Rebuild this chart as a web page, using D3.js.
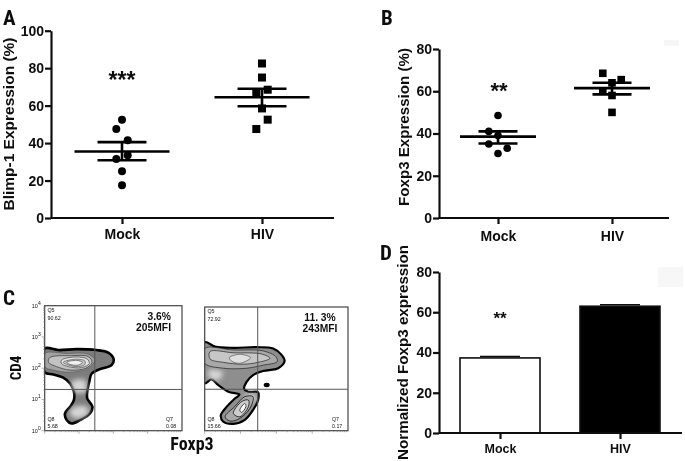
<!DOCTYPE html>
<html><head><meta charset="utf-8">
<script src="https://cdn.jsdelivr.net/npm/d3@7/dist/d3.min.js"></script>
<style>
html,body{margin:0;padding:0;background:#fff}
text{font-family:"Liberation Sans",Arial,sans-serif;fill:#111}
.narrow{font-family:"Liberation Sans Narrow","Roboto Condensed","Liberation Sans",sans-serif;font-weight:700}
</style></head><body>
<svg id="c" width="685" height="461" xmlns="http://www.w3.org/2000/svg"></svg>
<script>
const categories = ["Mock","HIV"];
const yTicksA = [0,20,40,60,80,100];
const yTicksB = [0,20,40,60,80];

const blimpMock = [52.5,47.5,41.5,33.5,31.5,25,17.5];
const blimpMockSlots = [0,-1,1,1,-1,0,0];
const blimpHiv = [82.5,75,68.5,66.5,58.5,52.5,47.5];
const blimpHivSlots = [0,0,1,-1,0,1,-1];
const blimpMeans = [35.5,64.5];
const blimpHigh = [40.5,69];
const blimpLow = [30.8,59.7];

const foxpMock = [48.5,41,39,35,33,30.5];
const foxpMockSlots = [0,-1,0,-1,1,0];
const foxpHiv = [68.5,65.5,64,60,58,50];
const foxpHivSlots = [-1,1,0,-1,0,0];
const foxpMeans = [38.5,61.5];
const foxpHigh = [41,64];
const foxpLow = [35.3,58.5];

const normValues = [37.3,63];
const normErr = [38,63.7];

const flowExponents = [0,1,2,3,4];
// contours, in decades of fluorescence [Foxp3, CD4]
const mockOuter = [[0,2.63],[.4,2.58],[.93,2.61],[1.51,2.58],[1.85,2.5],[2.01,2.29],[1.95,2.1],[1.61,1.97],[1.37,1.83],[1.3,1.57],[1.24,1.25],[1.24,1.03],[1.39,.77],[1.32,.55],[1.03,.34],[.78,.23],[.64,.34],[.59,.55],[.74,.77],[.85,.98],[.85,1.25],[.74,1.51],[.54,1.7],[.25,1.8],[0,1.87]];
const mockRing1 = [[0,2.47],[.64,2.47],[1.27,2.45],[1.46,2.26],[1.27,2],[.74,1.87],[.25,1.94],[0,2.05]];
const mockRing2 = [[.15,2.34],[.78,2.4],[1.27,2.37],[1.38,2.19],[1.2,2],[.74,1.94],[.35,2.05],[.11,2.19]];
const mockRing3 = [[.49,2.26],[.93,2.36],[1.24,2.29],[1.3,2.15],[1.08,2.02],[.69,2.05],[.49,2.15]];
const mockRing4 = [[.54,2.19],[.93,2.29],[1.17,2.23],[1.17,2.12],[.98,2.05],[.69,2.1]];
const mockRing5 = [[.64,2.19],[.93,2.25],[1.1,2.19],[.98,2.1],[.74,2.12]];
const mockGlowLow = [[.78,.71],[1.22,.77],[1.27,.55],[.98,.39],[.74,.51]];
const mockGlowNeck = [[.78,1.57],[1.17,1.62],[1.2,1.25],[.88,1.25]];

const hivOuter = [[0,2.86],[.29,2.72],[.8,2.68],[1.45,2.7],[1.91,2.66],[2.14,2.46],[2.23,2.25],[2.05,2.02],[1.63,1.93],[1.35,1.8],[1.17,1.58],[1.1,1.35],[1.22,1.26],[1.49,1.24],[1.49,.99],[1.35,.67],[1.12,.35],[.8,.22],[.52,.29],[.45,.5],[.61,.77],[.84,1.04],[.97,1.17],[.66,1.26],[.38,1.47],[.19,1.66],[0,1.53]];
const hivRing1 = [[0,2.66],[.8,2.61],[1.63,2.58],[1.99,2.39],[2.02,2.23],[1.63,2.12],[1.17,2.02],[.52,2.02],[0,2.18]];
const hivRing2 = [[.15,2.56],[.8,2.52],[1.59,2.48],[1.82,2.34],[1.49,2.21],[1.08,2.15],[.52,2.21],[.15,2.32]];
const hivRing3 = [[.69,2.36],[.98,2.47],[1.28,2.36],[.98,2.18],[.75,2.25]];
const hivGlowLeft = [[.1,1.95],[.5,1.9],[.4,1.65],[.15,1.7]];
const hivGlowFoot = [[1.12,1.15],[1.42,1.15],[1.4,.95],[1.2,.95]];
const hivLow1 = [[.57,.45],[.84,.78],[1.12,1.1],[1.35,1.1],[1.26,.72],[.98,.4],[.71,.31]];
const hivLow2 = [[.8,.56],[1.03,.94],[1.22,.99],[1.22,.78],[.98,.45]];
const hivLow3 = [[.98,.67],[1.12,.88],[1.15,.78],[1.03,.59]];
const hivIsland = [[1.73,1.48]];

const svg = d3.select("#c");
const defs = svg.append("defs");
defs.append("filter").attr("id","soft").append("feGaussianBlur").attr("stdDeviation",.4);
defs.append("filter").attr("id","glow").attr("x","-40%").attr("y","-40%").attr("width","180%").attr("height","180%")
  .append("feGaussianBlur").attr("stdDeviation",2.6);
const root = svg.append("g").attr("filter","url(#soft)");

function styleAxis(g, fs, w){
  g.selectAll("path,line").attr("stroke","#111").attr("stroke-width",w);
  g.selectAll("text").attr("font-size",fs).attr("font-weight",700).attr("font-family","Liberation Sans").attr("fill","#111");
}
function axes(o, yTicks, yMax){
  const y = d3.scaleLinear().domain([0,yMax]).range([o.y0,o.y1]);
  const x = d3.scalePoint().domain(categories).range([o.cx0,o.cx1]);
  const gy = root.append("g").attr("transform",`translate(${o.x0},0)`)
    .call(d3.axisLeft(y).tickValues(yTicks).tickSize(6).tickSizeOuter(0).tickPadding(1));
  styleAxis(gy,o.tick,2.2);
  const gx = root.append("g").attr("transform",`translate(0,${o.y0})`);
  gx.call(d3.axisBottom(x).tickSize(6).tickPadding(o.pad));
  gx.select("path").attr("d",`M${o.x0},0H${o.x1}`);
  styleAxis(gx,o.xfs,2.2);
  return {x,y};
}
function title(txt,bx,cy,len,fs){
  root.append("text").attr("transform",`translate(${bx},${cy}) rotate(-90)`).attr("text-anchor","middle")
    .attr("font-size",fs).attr("font-weight",700).attr("textLength",len).attr("lengthAdjust","spacingAndGlyphs").text(txt);
}
function letter(t,x,y,fs){ root.append("text").attr("class","narrow").attr("x",x).attr("y",y).attr("font-size",fs||21).text(t); }

function dots(o, s, mock, mockS, hiv, hivS, means, hi, lo){
  const g = root.append("g");
  categories.forEach((c,i)=>{
    const cx=s.x(c);
    g.append("line").attr("x1",cx-o.mean).attr("x2",cx+o.mean).attr("y1",s.y(means[i])).attr("y2",s.y(means[i])).attr("stroke","#000").attr("stroke-width",o.lw);
    [hi[i],lo[i]].forEach(v=>g.append("line").attr("x1",cx-o.cap).attr("x2",cx+o.cap).attr("y1",s.y(v)).attr("y2",s.y(v)).attr("stroke","#000").attr("stroke-width",o.lw));
    g.append("line").attr("x1",cx).attr("x2",cx).attr("y1",s.y(hi[i])).attr("y2",s.y(lo[i])).attr("stroke","#000").attr("stroke-width",o.lw);
  });
  g.selectAll("circle").data(mock).join("circle")
    .attr("cx",(d,i)=>s.x("Mock")+mockS[i]*o.slot).attr("cy",d=>s.y(d)).attr("r",o.r).attr("fill","#000");
  g.selectAll("rect").data(hiv).join("rect")
    .attr("x",(d,i)=>s.x("HIV")+hivS[i]*o.slot-o.r).attr("y",d=>s.y(d)-o.r).attr("width",o.r*2).attr("height",o.r*2).attr("fill","#000");
}
function stars(t,x,y,fs){ root.append("text").attr("x",x).attr("y",y).attr("text-anchor","middle").attr("font-size",fs).attr("font-weight",700).text(t); }

// faint scan patches
root.append("rect").attr("x",664).attr("y",40).attr("width",15).attr("height",6).attr("fill","#f6f6f6");
root.append("rect").attr("x",658).attr("y",267).attr("width",25).attr("height",20).attr("fill","#f7f7f7");

// Panel A
const optA={x0:51,x1:334,y0:218,y1:30.7,cx0:122,cx1:262,tick:14,xfs:14,pad:5};
const sA=axes(optA,yTicksA,100);
dots({mean:47.5,cap:24.5,lw:2.6,slot:5.7,r:4},sA,blimpMock,blimpMockSlots,blimpHiv,blimpHivSlots,blimpMeans,blimpHigh,blimpLow);
title("Blimp-1 Expression (%)",13.5,124,173,15);
stars("***",122,88,23);
letter("A",3,25);

// Panel B
const optB={x0:439,x1:669,y0:218,y1:49,cx0:498,cx1:612,tick:14,xfs:14,pad:7};
const sB=axes(optB,yTicksB,80);
dots({mean:38,cap:19.5,lw:2.6,slot:9.2,r:3.8},sB,foxpMock,foxpMockSlots,foxpHiv,foxpHivSlots,foxpMeans,foxpHigh,foxpLow);
title("Foxp3 Expression (%)",409,127,158,15);
stars("**",499,98,22);
letter("B",381,25);

// Panel D
const gBars=root.append("g");
const optD={x0:439,x1:682,y0:433,y1:272,cx0:500,cx1:620,tick:14,xfs:12.5,pad:5};
const sD=axes(optD,yTicksB,80);
categories.forEach((c,i)=>{
  const cx=sD.x(c), bw=40;
  gBars.append("line").attr("x1",cx-20).attr("x2",cx+20).attr("y1",sD.y(normErr[i])).attr("y2",sD.y(normErr[i])).attr("stroke","#111").attr("stroke-width",1.5);
  gBars.append("rect").attr("x",cx-bw).attr("width",bw*2).attr("y",sD.y(normValues[i])).attr("height",sD.y(0)-sD.y(normValues[i]))
    .attr("fill",i?"#000":"#fff").attr("stroke","#111").attr("stroke-width",1.6);
});
title("Normalized Foxp3 expression",408,352.5,215,15);
stars("**",500,324,17);
letter("D",380,260);

// Panel C
const curve = d3.curveCatmullRomClosed.alpha(.5);
function flow(o){
  const x=d3.scaleLinear().domain([0,4]).range([o.l,o.r]);
  const y=d3.scaleLinear().domain([0,4]).range([o.b,o.t]);
  const line=d3.line().x(d=>x(d[0])).y(d=>y(d[1])).curve(curve);
  const id="clip"+o.id;
  defs.append("clipPath").attr("id",id).append("rect").attr("x",o.l).attr("y",o.t).attr("width",o.r-o.l).attr("height",o.b-o.t);
  const g=root.append("g");
  const c=g.append("g").attr("clip-path",`url(#${id})`);
  c.append("path").attr("d",line(o.outer)).attr("fill",o.base).attr("stroke","#000").attr("stroke-width",o.edge);
  o.glows.forEach(p=>c.append("path").attr("d",line(p)).attr("fill","#d6d6d6").attr("filter","url(#glow)"));
  o.rings.forEach(r=>c.append("path").attr("d",line(r.p)).attr("fill",r.f).attr("stroke",r.s).attr("stroke-width",r.w));
  (o.islands||[]).forEach(p=>c.append("ellipse").attr("cx",x(p[0])).attr("cy",y(p[1])).attr("rx",3).attr("ry",2.2).attr("fill","#000"));
  g.append("rect").attr("x",o.l).attr("y",o.t).attr("width",o.r-o.l).attr("height",o.b-o.t).attr("fill","none").attr("stroke","#444").attr("stroke-width",1.2);
  g.append("line").attr("x1",x(o.gx)).attr("x2",x(o.gx)).attr("y1",o.t).attr("y2",o.b).attr("stroke","#555").attr("stroke-width",1);
  g.append("line").attr("x1",o.l).attr("x2",o.r).attr("y1",y(o.gy)).attr("y2",y(o.gy)).attr("stroke","#555").attr("stroke-width",1);
  const minor=d3.range(0,4).flatMap(d=>d3.range(1,10).map(m=>d+Math.log10(m)));
  const tg=g.append("g").attr("stroke","#777").attr("stroke-width",.6);
  minor.forEach(v=>{
    tg.append("line").attr("x1",x(v)).attr("x2",x(v)).attr("y1",o.b).attr("y2",o.b+(Number.isInteger(v)?3:1.5));
    if(o.labels) tg.append("line").attr("y1",y(v)).attr("y2",y(v)).attr("x1",o.l).attr("x2",o.l-(Number.isInteger(v)?3:1.5));
  });
  if(o.labels){
    flowExponents.forEach(e=>{
      const t=g.append("text").attr("x",o.l-4).attr("y",y(e)+2).attr("text-anchor","end").attr("font-size",5.5).attr("fill","#333");
      t.append("tspan").text("10");
      t.append("tspan").attr("font-size",5).attr("dy",-3).text(e);
    });
  }
  o.quads.forEach(q=>{
    q.t.forEach((s,i)=>g.append("text").attr("x",q.x).attr("y",q.y+i*7.5).attr("font-size",5.3).attr("fill","#333").text(s));
  });
  o.note.forEach((s,i)=>g.append("text").attr("x",o.noteX).attr("y",o.noteY+i*10.5).attr("text-anchor",o.noteAnchor).attr("font-size",10.3).attr("font-weight",700).text(s));
}
flow({id:1,l:44.7,r:182,t:305.7,b:430.7,gx:1.46,gy:1.32,edge:2.6,labels:true,base:"#7c7c7c",
  outer:mockOuter,glows:[mockGlowLow,mockGlowNeck],
  rings:[{p:mockRing1,f:"#a2a2a2",s:"#555",w:.6},{p:mockRing2,f:"#c2c2c2",s:"#333",w:.7},{p:mockRing3,f:"#e2e2e2",s:"#444",w:.7},{p:mockRing4,f:"#c8c8c8",s:"#444",w:.6},{p:mockRing5,f:"#f0f0f0",s:"#333",w:.6}],
  quads:[{x:47.5,y:312,t:["Q5","90.62"]},{x:47.5,y:428,t:["5.68"]},{x:47.5,y:421,t:["Q8"]},{x:166,y:428,t:["0.08"]},{x:166,y:421,t:["Q7"]}],
  note:["3.6%","205MFI"],noteX:171,noteY:320,noteAnchor:"end"});
flow({id:2,l:204.7,r:348,t:307,b:430.7,gx:1.48,gy:1.34,edge:2.2,labels:false,base:"#8e8e8e",
  outer:hivOuter,glows:[hivGlowLeft,hivGlowFoot],
  rings:[{p:hivRing1,f:"#a8a8a8",s:"#222",w:.7},{p:hivRing2,f:"#c6c6c6",s:"#222",w:.7},{p:hivRing3,f:"#e0e0e0",s:"#555",w:.7},{p:hivLow1,f:"#a8a8a8",s:"#111",w:.8},{p:hivLow2,f:"#cdcdcd",s:"#111",w:.8},{p:hivLow3,f:"#fff",s:"#222",w:.8}],
  islands:hivIsland,
  quads:[{x:207.5,y:313,t:["Q5","72.92"]},{x:207.5,y:421,t:["Q8"]},{x:207.5,y:428,t:["15.66"]},{x:332,y:421,t:["Q7"]},{x:332,y:428,t:["0.17"]}],
  note:["11. 3%","243MFI"],noteX:320,noteY:321,noteAnchor:"middle"});
root.append("text").attr("class","narrow").attr("transform","translate(21,368) rotate(-90)").attr("text-anchor","middle").attr("font-size",15).text("CD4");
root.append("text").attr("class","narrow").attr("x",192).attr("y",450).attr("text-anchor","middle").attr("font-size",18).text("Foxp3");
letter("C",3,305);
</script>
</body></html>
